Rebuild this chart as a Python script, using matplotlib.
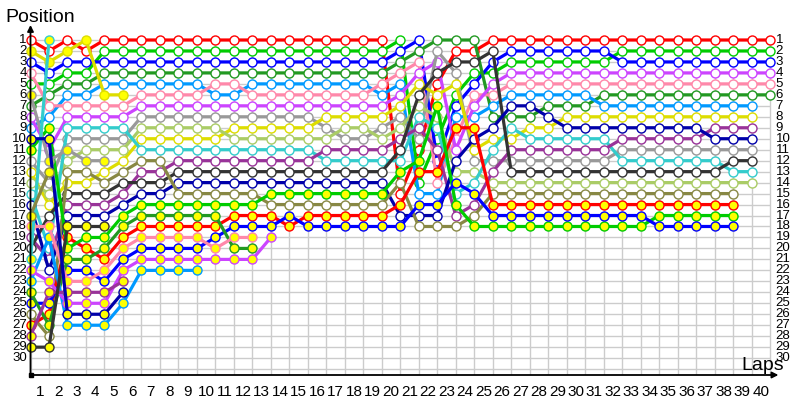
import matplotlib
matplotlib.use("Agg")
import matplotlib.pyplot as plt
from matplotlib.transforms import blended_transform_factory

plt.rcParams["font.family"] = ["Liberation Sans", "DejaVu Sans"]

# one letter per car; capitals = first car of a colour, lower case = second car (yellow markers)
driver_codes = ["A", "B", "C", "D", "E", "F", "G", "H", "I", "J", "K", "L", "M", "N", "O",
                "a", "b", "c", "d", "e", "f", "g", "h", "i", "k", "l", "m", "n", "o"]
driver_colors = ["#ff0000", "#00cc00", "#0000ff", "#229922", "#0099ff", "#ff88aa", "#cc44ff",
                 "#999999", "#dddd00", "#aacc66", "#33cccc", "#993399", "#333333", "#0000aa",
                 "#888844",
                 "#ff0000", "#00cc00", "#0000ff", "#229922", "#0099ff", "#ff88aa", "#cc44ff",
                 "#999999", "#dddd00", "#33cccc", "#993399", "#333333", "#0000aa", "#888844"]
driver_filled = [False] * 15 + [True] * 14

# running order at the end of each lap (lap 0 = grid)
running_order = [
    "A i C F B h D G E n b H I J K N o f L M k g e d c O a l m",   # 0
    "k A i C B D F E b n G h o H J I M f e K L N g l c a d O m",   # 1
    "A i C B D E F G K H h J O I M L N m a b d c f l g n e",       # 2
    "i A C B D E F G K H J h O I M L N m b a d c f l g n e",       # 3
    "A B C D E i F G K H J h I O M L N m b d a f c l g n e",       # 4
    "A B C D E i F G K H J I O M L N b d a f c g l n e",           # 5
    "A B C D E F G H J I K O L M N b d a f c g e",                 # 6
    "A B C D E F G H J I K O L M N b d a f c g e",                 # 7
    "A B C D E F G H J I K L M N O b d a f c g e",                 # 8
    "A B C D E F G H J I K L M N O b d a f c g e",                 # 9
    "A B C D F E G H J I K L M N O b d a c f g",                   # 10
    "A B C D F E G H I J K L M N O b a c f d g",                   # 11
    "A B C D E F G H I J K L M N O b a c f d g",                   # 12
    "A B C D E F G H I J K L M N b O a c g",                       # 13
    "A B C D E F G H I J K L M N b O c a",                         # 14
    "A B C D E F G H I J K L M N b O a c",                         # 15
    "A B C D E F G I H J L K M N b O a c",                         # 16
    "A B C D E F G I J H L K M N b O a c",                         # 17
    "A B C D E F G I J H L K M N b O a c",                         # 18
    "A B C D F E G I H J L K M N b O a c",                         # 19
    "B C D F E G I H J L M K b O A a N c",                         # 20
    "C D F G I M J K L H A b a B E c N O",                         # 21
    "D H G M A I b J K B L C a F E c N O",                         # 22
    "D A M H I B C E a F G N J c K b L O",                         # 23
    "D A M B C F G E a N I H J K c L O b",                         # 24
    "A M C B G F E D N I K H L J O a c b",                         # 25
    "A C B G F E N D K I L H M J O a c b",                         # 26
    "A C B G F E N D I K L H M J O a c b",                         # 27
    "A C B G F E D N I K L H M J O a c b",                         # 28
    "A C B G F E D I N K L H M J O a c b",                         # 29
    "A C B G F E D I N K L H M J O a c b",                         # 30
    "A C B G F D E I N K L H M J O a c b",                         # 31
    "A B C G F D E I N L H K M J O a c b",                         # 32
    "A B C G F D E I N L H K M J O a c b",                         # 33
    "A B C G F D E I N L H K M J O a b c",                         # 34
    "A B C G F D E I N L H K M J O a b c",                         # 35
    "A B C G F D E I N L H K M J O a b c",                         # 36
    "A B C G F D E I L N H K M J O a b c",                         # 37
    "A B C G F D E I L N H M K J O a b c",                         # 38
    "A B C G F D E I L N H M K J",                                 # 39
    "A B C G F D",                                                 # 40
]

n_laps = 40
n_pos = 30
x_labels = [str(i) for i in range(1, n_laps + 1)]
y_labels = [str(i) for i in range(1, n_pos + 1)]

PX_LAP = 18.49
PX_POS = 10.97
y_bottom = 1 + (375 - 40) / PX_POS
y_top = 1 - (40 - 25) / PX_POS

fig = plt.figure(figsize=(8, 4), dpi=100)
ax = fig.add_axes([30 / 800, 25 / 400, 770 / 800, 350 / 400])
ax.set_xlim(-0.5 / PX_LAP, 769.5 / PX_LAP)
ax.set_ylim(y_bottom, y_top)
ax.axis("off")

# grid
ax.hlines(range(1, n_pos + 2), 0, n_laps, colors="#cccccc", lw=1, zorder=1)
ax.vlines(range(0, n_laps + 1), 1, y_bottom, colors="#cccccc", lw=1, zorder=1)

# axes with arrows
ax.annotate("", xy=(0, y_top), xytext=(0, y_bottom), annotation_clip=False,
            arrowprops=dict(arrowstyle="-|>", color="black", lw=1.3, mutation_scale=9,
                            shrinkA=0, shrinkB=0), zorder=5)
ax.annotate("", xy=(40.45, y_bottom), xytext=(0, y_bottom), annotation_clip=False,
            arrowprops=dict(arrowstyle="-|>", color="black", lw=1.3, mutation_scale=9,
                            shrinkA=0, shrinkB=0), zorder=5)
ax.plot([0], [y_bottom], marker="s", ms=3, color="black", clip_on=False, zorder=6)

# cars
for code, color, filled in zip(driver_codes, driver_colors, driver_filled):
    laps, pos = [], []
    for lap, order in enumerate(running_order):
        cars = order.split()
        if code in cars:
            laps.append(lap)
            pos.append(cars.index(code) + 1)
    ax.plot(laps, pos, color=color, lw=2.3, marker="o", ms=6.5,
            mfc="#ffff00" if filled else "white", mec=color, mew=1.0,
            clip_on=False, zorder=3)

# labels
tr = blended_transform_factory(ax.transData, ax.transAxes)
for i, lab in enumerate(x_labels, start=1):
    ax.text(i - 0.5, -0.048, lab, transform=tr, ha="center", va="center", fontsize=11)
for i, lab in enumerate(y_labels, start=1):
    ax.text(-0.2, i, lab, ha="right", va="center", fontsize=9.5, clip_on=False)
    ax.text(40.3, i, lab, ha="left", va="center", fontsize=9.5, clip_on=False)

fig.text(5 / 800, 1 - 18 / 400, "Position", ha="left", va="center", fontsize=14)
fig.text(763 / 800, 1 - 366 / 400, "Laps", ha="center", va="center", fontsize=14)

fig.savefig("out.png", dpi=100)
